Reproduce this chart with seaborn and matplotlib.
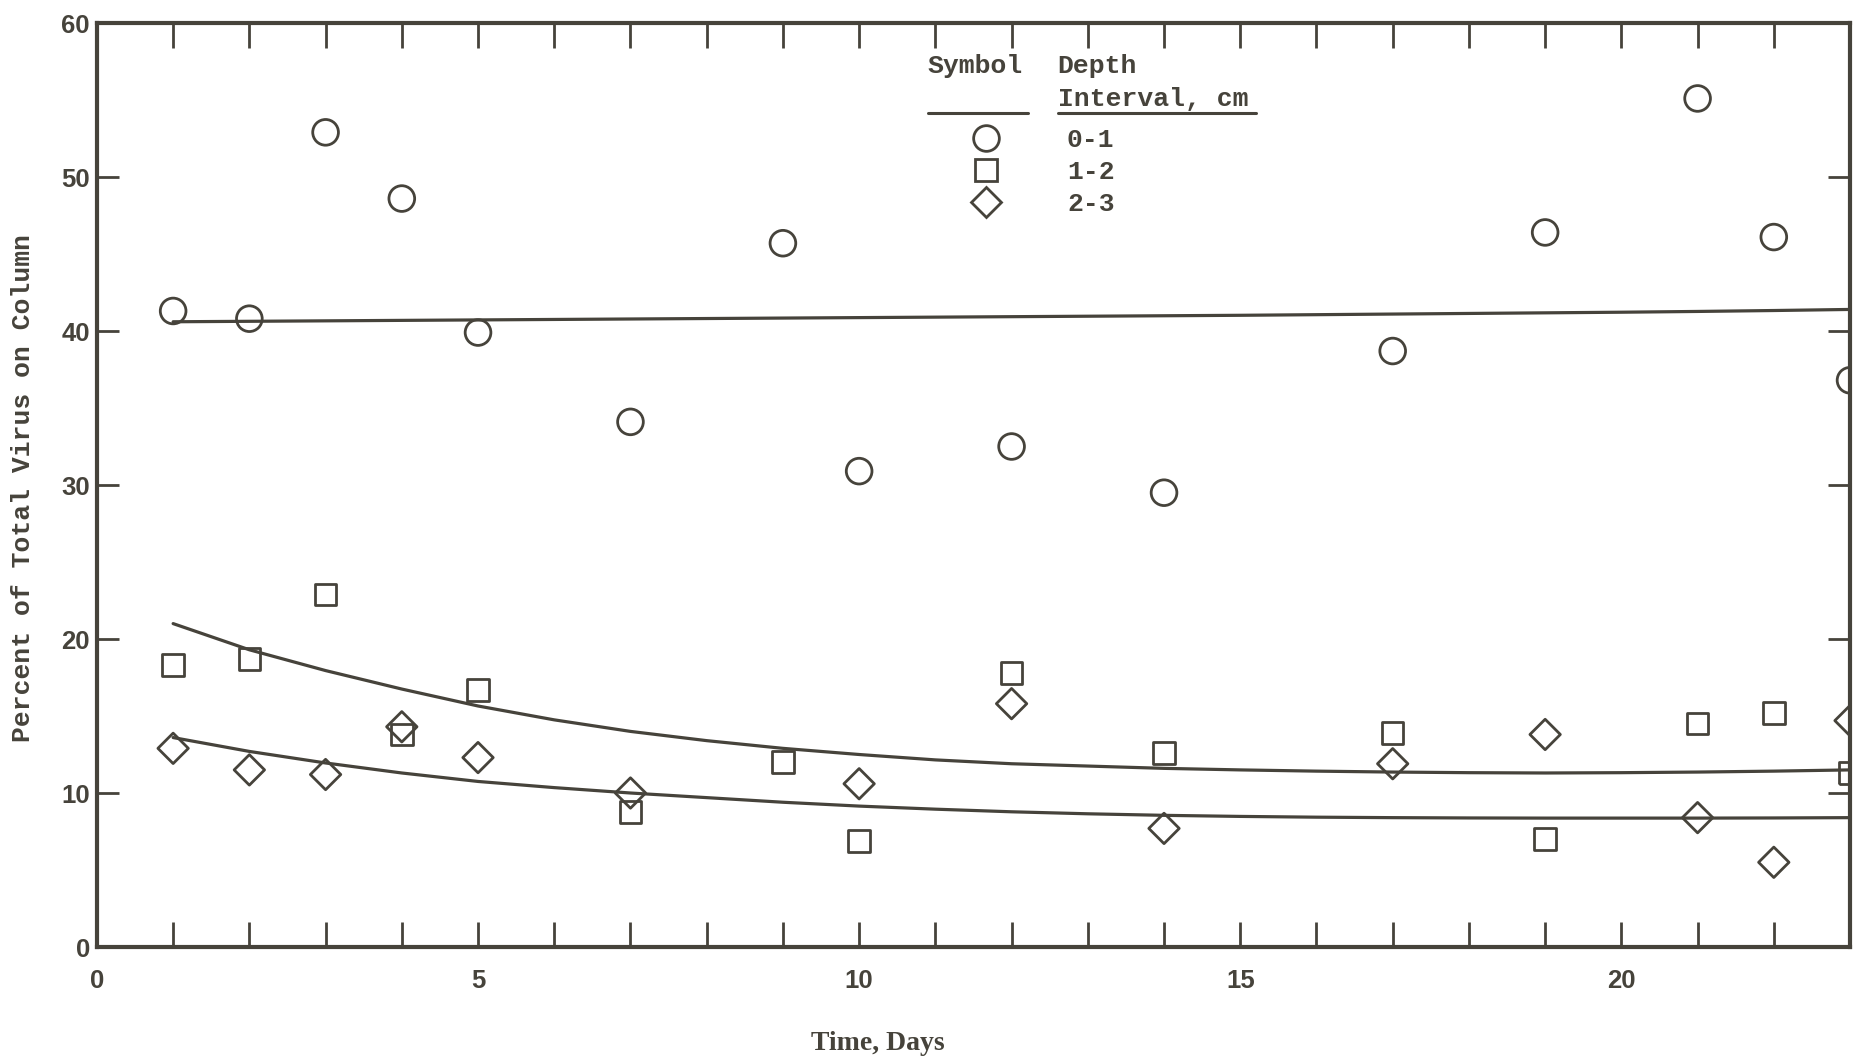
import matplotlib
matplotlib.use("Agg")
import matplotlib.pyplot as plt
from matplotlib.lines import Line2D
from matplotlib.ticker import MultipleLocator
import pandas as pd
import seaborn as sns

INK = "#46433b"

# depth 0-1 cm
days_01 = [1, 2, 3, 4, 5, 7, 9, 10, 12, 14, 17, 19, 21, 22, 23]
pct_01 = [41.3, 40.8, 52.9, 48.6, 39.9, 34.1, 45.7, 30.9, 32.5, 29.5, 38.7, 46.4, 55.1, 46.1, 36.8]
# depth 1-2 cm
days_12 = [1, 2, 3, 4, 5, 7, 9, 10, 12, 14, 17, 19, 21, 22, 23]
pct_12 = [18.3, 18.7, 22.9, 13.8, 16.7, 8.75, 12.0, 6.9, 17.8, 12.6, 13.9, 7.0, 14.5, 15.2, 11.3]
# depth 2-3 cm
days_23 = [1, 2, 3, 4, 5, 7, 10, 12, 14, 17, 19, 21, 22, 23]
pct_23 = [12.9, 11.5, 11.2, 14.3, 12.3, 10.0, 10.6, 15.8, 7.7, 11.9, 13.8, 8.4, 5.5, 14.7]

# fitted curves (one reading per day)
fit_days = [1, 2, 3, 4, 5, 6, 7, 8, 9, 10, 11, 12, 13, 14, 15, 16, 17, 18, 19, 20, 21, 22, 23]
fit_01 = [40.6, 40.63, 40.66, 40.69, 40.72, 40.75, 40.78, 40.81, 40.84, 40.87, 40.9, 40.93,
          40.96, 40.99, 41.02, 41.06, 41.1, 41.14, 41.18, 41.22, 41.27, 41.33, 41.4]
fit_12 = [21.0, 19.3, 17.95, 16.75, 15.65, 14.75, 14.0, 13.4, 12.9, 12.5, 12.15, 11.9,
          11.75, 11.6, 11.5, 11.42, 11.36, 11.32, 11.3, 11.32, 11.36, 11.42, 11.5]
fit_23 = [13.6, 12.7, 11.95, 11.3, 10.75, 10.35, 10.0, 9.7, 9.4, 9.15, 8.95, 8.78,
          8.65, 8.55, 8.48, 8.43, 8.4, 8.38, 8.37, 8.37, 8.37, 8.38, 8.4]

depth_labels = ["0-1", "1-2", "2-3"]
markers = {"0-1": "o", "1-2": "s", "2-3": "D"}
sizes = {"0-1": 18.5, "1-2": 15.5, "2-3": 15.5}

x_ticks = [0, 5, 10, 15, 20]
y_ticks = [0, 10, 20, 30, 40, 50, 60]

points = pd.concat([
    pd.DataFrame({"day": days_01, "pct": pct_01, "depth": "0-1"}),
    pd.DataFrame({"day": days_12, "pct": pct_12, "depth": "1-2"}),
    pd.DataFrame({"day": days_23, "pct": pct_23, "depth": "2-3"}),
])
fits = pd.concat([
    pd.DataFrame({"day": fit_days, "pct": fit_01, "depth": "0-1"}),
    pd.DataFrame({"day": fit_days, "pct": fit_12, "depth": "1-2"}),
    pd.DataFrame({"day": fit_days, "pct": fit_23, "depth": "2-3"}),
])

sns.set_style("ticks")
plt.rcParams["font.family"] = ["Liberation Sans", "DejaVu Sans"]

fig = plt.figure(figsize=(18.53, 10.60), dpi=100, facecolor="white")
ax = fig.add_axes([0.0523, 0.1066, 0.9461, 0.8717])

for depth in depth_labels:
    sub = fits[fits["depth"] == depth]
    sns.lineplot(data=sub, x="day", y="pct", color=INK, linewidth=2.3, ax=ax,
                 estimator=None, sort=True)

for depth in depth_labels:
    sub = points[points["depth"] == depth]
    sns.scatterplot(data=sub, x="day", y="pct", marker=markers[depth],
                    s=sizes[depth] ** 2, facecolor="none", edgecolor=INK,
                    linewidth=2.0, ax=ax, zorder=3)

ax.set_xticks(x_ticks)
ax.set_xticklabels([str(v) for v in x_ticks])
ax.xaxis.set_minor_locator(MultipleLocator(1))
ax.set_yticks(y_ticks)
ax.set_yticklabels([str(v) for v in y_ticks])
ax.set_xlim(0, 23.0)
ax.set_ylim(0, 60)

for side in ["left", "right", "top", "bottom"]:
    ax.spines[side].set_visible(True)
    ax.spines[side].set_color(INK)
    ax.spines[side].set_linewidth(3.0)

ax.tick_params(axis="x", which="both", direction="in", top=True, bottom=True,
               length=18, width=2.0, color=INK, pad=16)
ax.tick_params(axis="y", which="both", direction="in", left=True, right=True,
               length=16, width=2.0, color=INK, pad=5)
for lab in ax.get_xticklabels() + ax.get_yticklabels():
    lab.set_fontsize(18.5)
    lab.set_fontweight("bold")
    lab.set_color(INK)

ax.set_xlabel("Time, Days", fontsize=20, fontweight="bold", color=INK,
              family=["Liberation Serif", "DejaVu Serif"], va="center")
ax.xaxis.set_label_coords(0.4455, -0.104)
ax.set_ylabel("Percent of Total Virus on Column", fontsize=19, fontweight="bold",
              color=INK, family=["Liberation Mono", "DejaVu Sans Mono"], va="center")
ax.yaxis.set_label_coords(-0.042, 0.497)

# legend block: header text, underlines and symbol entries
mono = ["Liberation Mono", "DejaVu Sans Mono"]
for txt, fx, fy in [("Symbol", 0.474, 0.9535), ("Depth", 0.548, 0.9535),
                    ("Interval, cm", 0.548, 0.918)]:
    ax.text(fx, fy, txt, transform=ax.transAxes, fontsize=19, fontweight="bold",
            family=mono, color=INK, va="center", ha="left")
ax.plot([0.474, 0.531], [0.9026, 0.9026], transform=ax.transAxes, color=INK, lw=2.2)
ax.plot([0.548, 0.661], [0.9026, 0.9026], transform=ax.transAxes, color=INK, lw=2.2)

handles = [
    Line2D([], [], linestyle="none", marker=markers[d], markersize=sizes[d],
           markerfacecolor="none", markeredgecolor=INK, markeredgewidth=2.0)
    for d in depth_labels
]
leg = ax.legend(handles, depth_labels, loc="upper left",
                bbox_to_anchor=(0.4999, 0.886), frameon=False, borderpad=0,
                borderaxespad=0, handlelength=1.0, handletextpad=2.55,
                labelspacing=0.3, prop={"family": mono, "size": 19, "weight": "bold"})
for t in leg.get_texts():
    t.set_color(INK)

fig.savefig("out.png", dpi=100, facecolor="white")
